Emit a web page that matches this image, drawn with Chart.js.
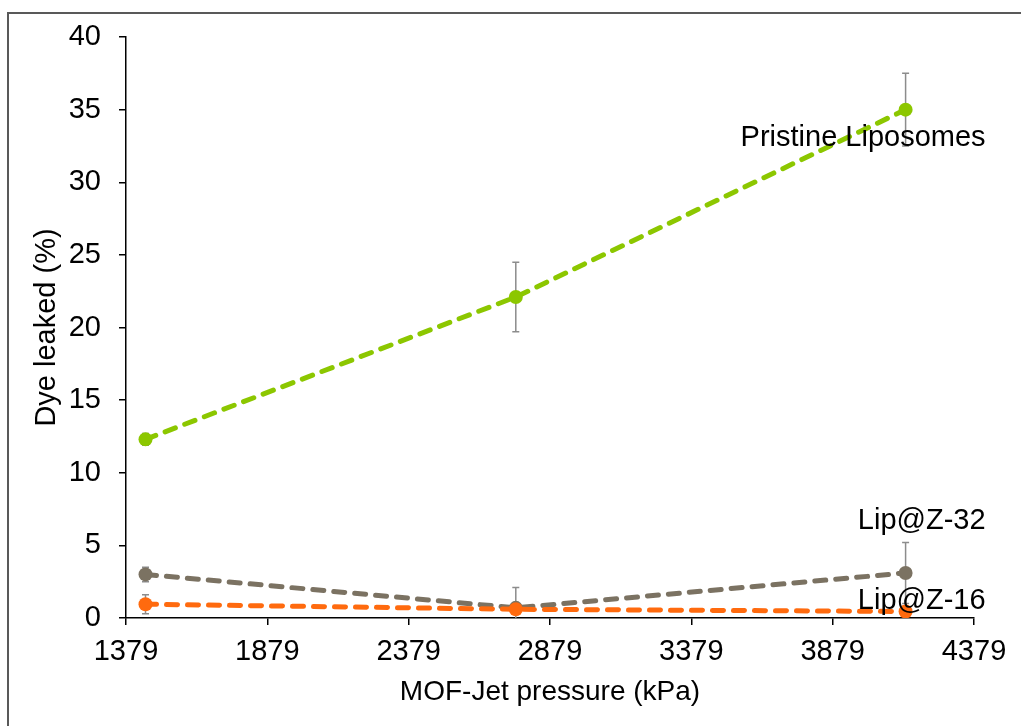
<!DOCTYPE html>
<html>
<head>
<meta charset="utf-8">
<script src="https://cdn.jsdelivr.net/npm/chart.js@4.4.1/dist/chart.umd.min.js"></script>
<style>
  html, body { margin: 0; padding: 0; background: #fff; overflow: hidden; }
  #wrap { position: relative; width: 1021px; height: 726px; }
  #frame { position: absolute; left: 7px; top: 12px; width: 1100px; height: 800px;
           border-left: 2px solid #595959; border-top: 2px solid #595959; }
  #lineChart { position: absolute; left: 0; top: 0; }
</style>
</head>
<body>
<div id="wrap">
  <div id="frame"></div>
  <canvas id="lineChart" width="1021" height="726"></canvas>
</div>
<script>
// pressures in kPa (210, 400, 600 psi)
const pressures = [1448, 2758, 4137];

const pristine = [12.3, 22.1, 35.0];
const pristineErr = [0.4, 2.4, 2.5];

const lipZ32 = [3.0, 0.7, 3.1];
const lipZ32Err = [0.5, 1.4, 2.1];

const lipZ16 = [0.95, 0.6, 0.45];
const lipZ16Err = [0.65, 0.2, 0.2];

const xTicks = [1379, 1879, 2379, 2879, 3379, 3879, 4379];

const FONT = 'Liberation Sans, Arial, sans-serif';

function points(ys) {
  return pressures.map((x, i) => ({ x: x, y: ys[i] }));
}

function series(label, ys, errs, color, order, labelOffset) {
  return {
    label: label,
    data: points(ys),
    errors: errs,
    tagOffset: labelOffset,
    borderColor: color,
    backgroundColor: color,
    borderWidth: 5,
    borderDash: [11, 10],
    borderCapStyle: 'round',
    pointRadius: 7,
    pointHoverRadius: 7,
    pointBorderWidth: 0,
    showLine: true,
    order: order
  };
}

// error bars, drawn under the lines
const errorBars = {
  id: 'errorBars',
  beforeDatasetsDraw(chart) {
    const { ctx, chartArea, scales: { x, y } } = chart;
    ctx.save();
    ctx.beginPath();
    ctx.rect(chartArea.left, chartArea.top, chartArea.right - chartArea.left, chartArea.bottom - chartArea.top);
    ctx.clip();
    ctx.strokeStyle = '#8c8c8c';
    ctx.lineWidth = 1.5;
    chart.data.datasets.forEach(ds => {
      ds.data.forEach((p, i) => {
        const e = ds.errors[i];
        const px = x.getPixelForValue(p.x);
        const top = y.getPixelForValue(p.y + e);
        const bot = y.getPixelForValue(p.y - e);
        ctx.beginPath();
        ctx.moveTo(px, top); ctx.lineTo(px, bot);
        ctx.moveTo(px - 3.5, top); ctx.lineTo(px + 3.5, top);
        ctx.moveTo(px - 3.5, bot); ctx.lineTo(px + 3.5, bot);
        ctx.stroke();
      });
    });
    ctx.restore();
  }
};

// series names next to the last point
const seriesTags = {
  id: 'seriesTags',
  afterDatasetsDraw(chart) {
    const { ctx, scales: { x, y } } = chart;
    ctx.save();
    ctx.font = '29px ' + FONT;
    ctx.fillStyle = '#000';
    ctx.textAlign = 'right';
    ctx.textBaseline = 'middle';
    chart.data.datasets.forEach(ds => {
      const last = ds.data[ds.data.length - 1];
      const px = x.getPixelForValue(last.x);
      const py = y.getPixelForValue(last.y);
      ctx.fillText(ds.label, px + ds.tagOffset[0], py + ds.tagOffset[1]);
    });
    ctx.restore();
  }
};

new Chart(document.getElementById('lineChart'), {
  type: 'scatter',
  data: {
    datasets: [
      series('Pristine Liposomes', pristine, pristineErr, '#8cc700', 3, [80, 28]),
      series('Lip@Z-32', lipZ32, lipZ32Err, '#7b7262', 2, [80, -52]),
      series('Lip@Z-16', lipZ16, lipZ16Err, '#ff6a0e', 1, [80, -10])
    ]
  },
  options: {
    responsive: false,
    animation: false,
    layout: { padding: { left: 0, top: 37, right: 47, bottom: 0 } },
    plugins: {
      legend: { display: false },
      tooltip: { enabled: false }
    },
    scales: {
      x: {
        type: 'linear',
        min: 1379,
        max: 4379,
        afterBuildTicks: s => { s.ticks = xTicks.map(v => ({ value: v })); },
        afterFit: s => { s.height = 108; },
        grid: { display: true, drawOnChartArea: false, drawTicks: true, tickLength: 7, color: '#000', lineWidth: 1.5 },
        border: { color: '#000', width: 1.5 },
        ticks: { color: '#000', font: { family: FONT, size: 29 }, padding: 10, maxRotation: 0,
                 callback: v => String(v) },
        title: { display: true, text: 'MOF-Jet pressure (kPa)', color: '#000',
                 font: { family: FONT, size: 28 }, padding: { top: 0, bottom: 17 } }
      },
      y: {
        min: 0,
        max: 40,
        afterFit: s => { s.width = 126; },
        grid: { display: true, drawOnChartArea: false, drawTicks: true, tickLength: 7, color: '#000', lineWidth: 1.5 },
        border: { color: '#000', width: 1.5 },
        ticks: { stepSize: 5, color: '#000', font: { family: FONT, size: 29 }, padding: 18 },
        title: { display: true, text: 'Dye leaked (%)', color: '#000',
                 font: { family: FONT, size: 29 }, padding: { top: 30, bottom: 0 } }
      }
    }
  },
  plugins: [errorBars, seriesTags]
});
</script>
</body>
</html>
